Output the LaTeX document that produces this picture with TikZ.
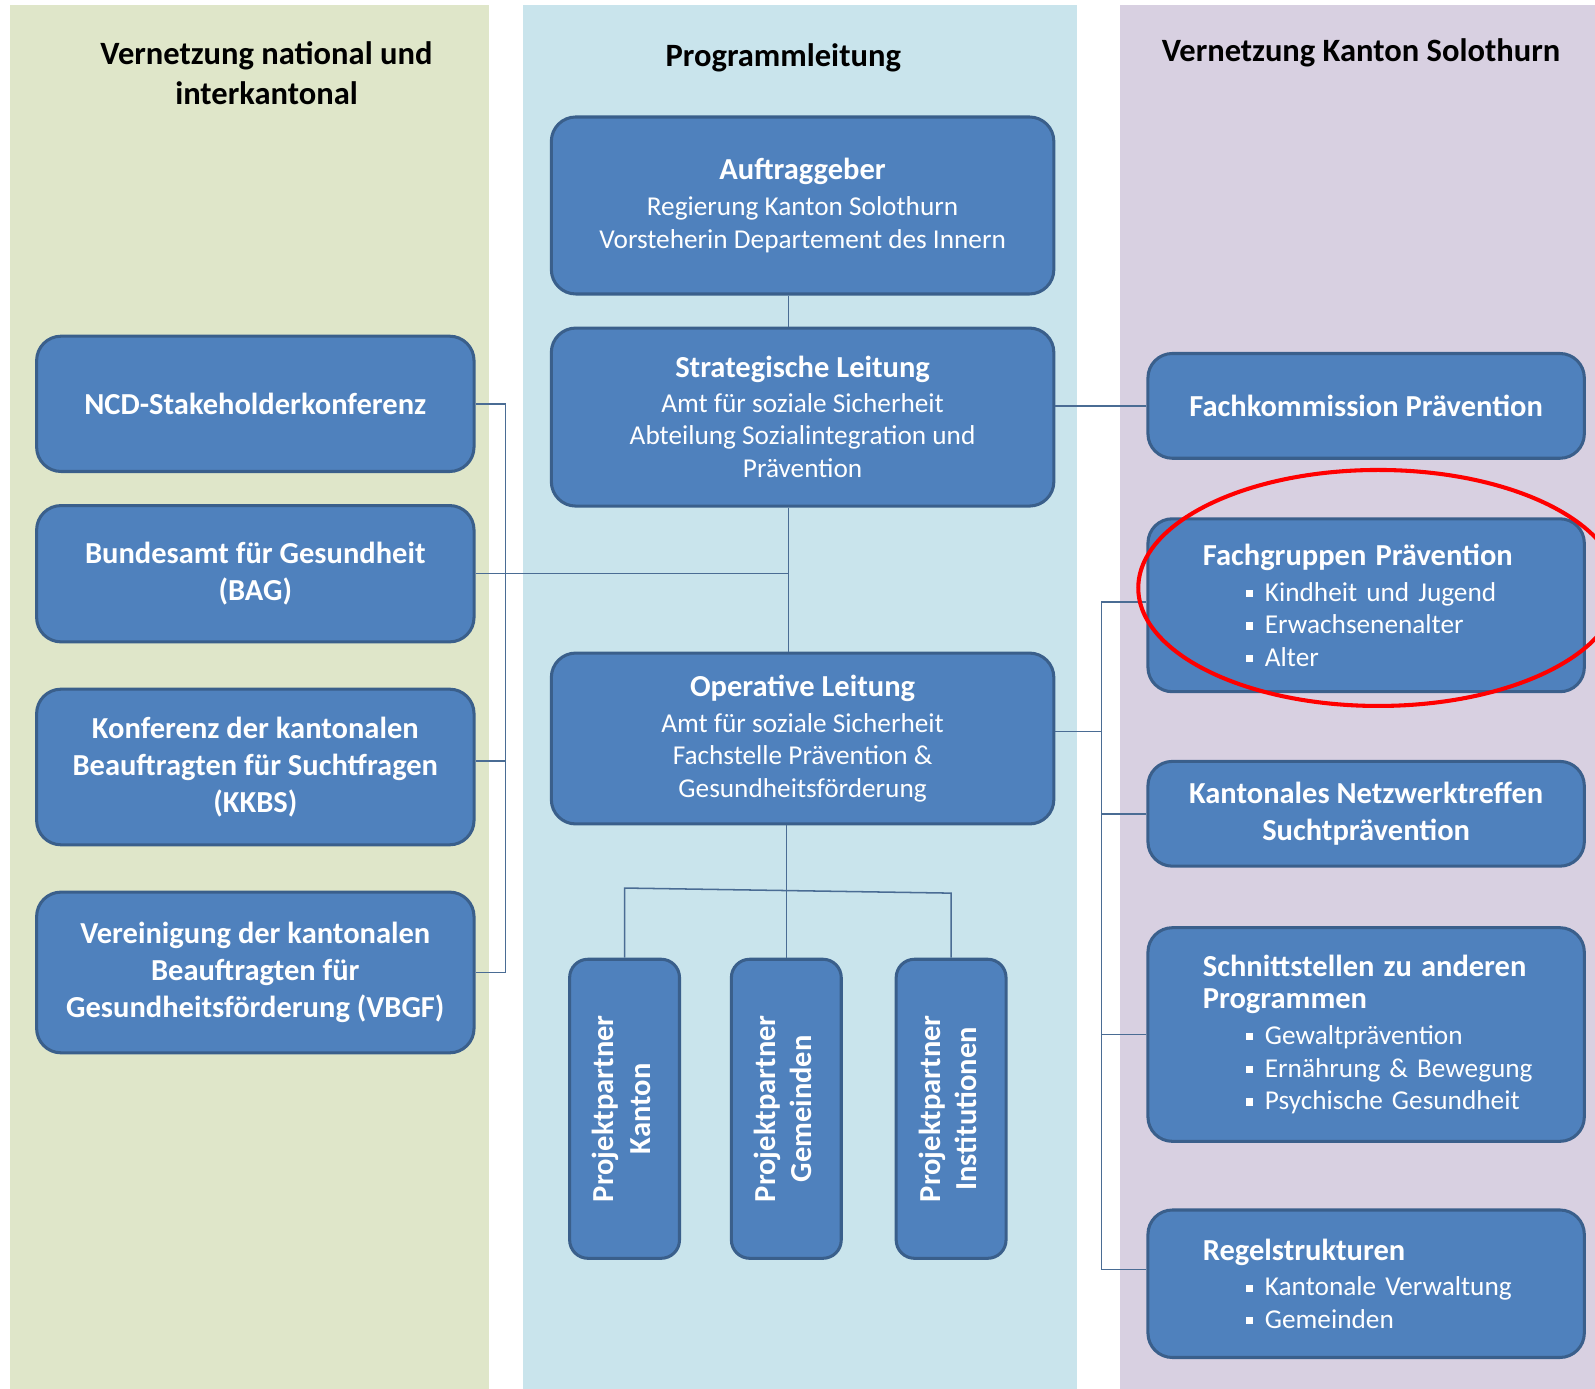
\documentclass[tikz,border=0pt]{standalone}
\usepackage{fontspec}
\setmainfont{Carlito}

\definecolor{bgL}{HTML}{DFE6C9}
\definecolor{bgM}{HTML}{C9E4EC}
\definecolor{bgR}{HTML}{D8D0E1}
\definecolor{boxfill}{HTML}{4F81BD}
\definecolor{boxline}{HTML}{3A5F8B}
\definecolor{linkcol}{HTML}{4A6C94}

\newcommand\regfont{\fontsize{26.8}{32}\selectfont}
\newcommand\ttlfont{\bfseries\fontsize{30}{36}\selectfont}
\newcommand\hdrfont{\bfseries\fontsize{32}{39}\selectfont}
\newcommand\ttl[1]{{\ttlfont #1}}
\newcommand\bul[1]{\mbox{\hspace*{42pt}\rule[4pt]{7pt}{7pt}\hspace*{12pt}#1}}
\newcommand\vlabel[2]{\rotatebox{90}{\ttlfont\begin{tabular}{@{}c@{}}#1\\#2\end{tabular}}}

\tikzset{every picture/.style={line width=1.5pt}}
\tikzset{
	box/.style={draw=boxline,fill=boxfill,line width=3pt,rounded corners=24pt,text=white,align=center,font=\regfont,inner sep=0pt},
	lbox/.style={box,minimum width=430pt,font=\ttlfont},
	rbox/.style={box,text width=321pt,inner xsep=54pt,align=left},
	ppbox/.style={box,minimum width=108pt,minimum height=294pt,rounded corners=18pt},
	hdr/.style={font=\hdrfont,align=center,inner sep=0pt},
	link/.style={draw=linkcol,line width=1.5pt}
}

\begin{document}
\begin{tikzpicture}[x=1pt,y=-1pt]
	\useasboundingbox (0,0) rectangle (1568,1365);
	\fill[white] (0,0) rectangle (1568,1365);
	% the three columns
	\fill[bgL] (10,5) rectangle (481,1365);
	\fill[bgM] (514,5) rectangle (1059,1365);
	\fill[bgR] (1101,5) rectangle (1568,1365);

	\node[hdr] (hdrL) at (262,72) {Vernetzung national und\\interkantonal};
	\node[hdr] (hdrM) at (770,57) {Programmleitung};
	\node[hdr] (hdrR) at (1338,52) {Vernetzung Kanton Solothurn};

	\coordinate (lbus) at (497,0);
	\coordinate (mbus) at (775,0);
	\coordinate (rbus) at (1083,0);

	% left
	\node[lbox,minimum height=133pt] (ncd) at (251,397) {NCD-Stakeholderkonferenz};
	\node[lbox,minimum height=134pt] (bag) at (251,564) {Bundesamt für Gesundheit\\(BAG)};
	\node[lbox,minimum height=153pt] (kkbs) at (251,754) {Konferenz der kantonalen\\Beauftragten für Suchtfragen\\(KKBS)};
	\node[lbox,minimum height=158pt] (vbgf) at (251,956) {Vereinigung der kantonalen\\Beauftragten für\\Gesundheitsförderung (VBGF)};

	% middle
	\node[box,minimum width=494pt,minimum height=174pt] (auftrag) at (789,202) {\ttl{Auftraggeber}\\[3pt]Regierung Kanton Solothurn\\Vorsteherin Departement des Innern};
	\node[box,minimum width=494pt,minimum height=175pt] (strat) at (789,410) {\ttl{Strategische Leitung}\\[2pt]Amt für soziale Sicherheit\\Abteilung Sozialintegration und\\Prävention};
	\node[box,minimum width=494pt,minimum height=168pt] (oper) at (789,726) {\ttl{Operative Leitung}\\[3pt]Amt für soziale Sicherheit\\Fachstelle Prävention \&\\Gesundheitsförderung};
	\node[ppbox] (ppK) at (614,1090) {\vlabel{Projektpartner}{Kanton}};
	\node[ppbox] (ppG) at (773,1090) {\vlabel{Projektpartner}{Gemeinden}};
	\node[ppbox] (ppI) at (935,1090) {\vlabel{Projektpartner}{Institutionen}};

	% right
	\node[box,minimum width=429pt,minimum height=103pt,font=\ttlfont] (fkom) at (1343,399) {Fachkommission Prävention};
	\node[rbox,minimum height=170pt] (fgrp) at (1343,595) {\ttl{Fachgruppen Prävention}\\[3pt]\bul{Kindheit und Jugend}\\\bul{Erwachsenenalter}\\\bul{Alter}};
	\node[box,minimum width=429pt,minimum height=103pt,font=\ttlfont] (netz) at (1343,800) {Kantonales Netzwerktreffen\\Suchtprävention};
	\node[rbox,minimum height=210pt] (schn) at (1343,1017) {\ttl{Schnittstellen zu anderen}\\\ttl{Programmen}\\[3pt]\bul{Gewaltprävention}\\\bul{Ernährung \& Bewegung}\\\bul{Psychische Gesundheit}};
	\node[rbox,minimum height=145pt] (regel) at (1343,1262) {\ttl{Regelstrukturen}\\[3pt]\bul{Kantonale Verwaltung}\\\bul{Gemeinden}};

	% lines
	\draw[link] (auftrag.south -| mbus) -- (strat.north -| mbus);
	\draw[link] (strat.south -| mbus) -- (oper.north -| mbus);
	\draw[link] (bag.east) -- (bag.east -| mbus);
	\draw[link] (ncd.east) -- (ncd.east -| lbus) -- (vbgf.east -| lbus) -- (vbgf.east);
	\draw[link] ([yshift=6pt]kkbs.east) -- ([yshift=6pt]kkbs.east -| lbus);
	\draw[link] (fkom.west) -- (fkom.west -| strat.east);
	\draw[link] ([yshift=7pt]oper.east) -- ([yshift=7pt]oper.east -| rbus);
	\draw[link] ([yshift=3pt]fgrp.west) -- ([yshift=3pt]fgrp.west -| rbus) -- ([yshift=14pt]regel.west -| rbus) -- ([yshift=14pt]regel.west);
	\draw[link] (netz.west) -- (netz.west -| rbus);
	\draw[link] (schn.west) -- (schn.west -| rbus);
	\coordinate (busL) at (614,873);
	\coordinate (busR) at (935,878);
	\draw[link] (oper.south -| ppG.north) -- (ppG.north);
	\draw[link] (ppK.north) -- (busL) -- (busR) -- (ppI.north);

	% marking
	\draw[red,line width=4pt] (1355,578) ellipse [x radius=236pt,y radius=116pt];
\end{tikzpicture}
\end{document}
